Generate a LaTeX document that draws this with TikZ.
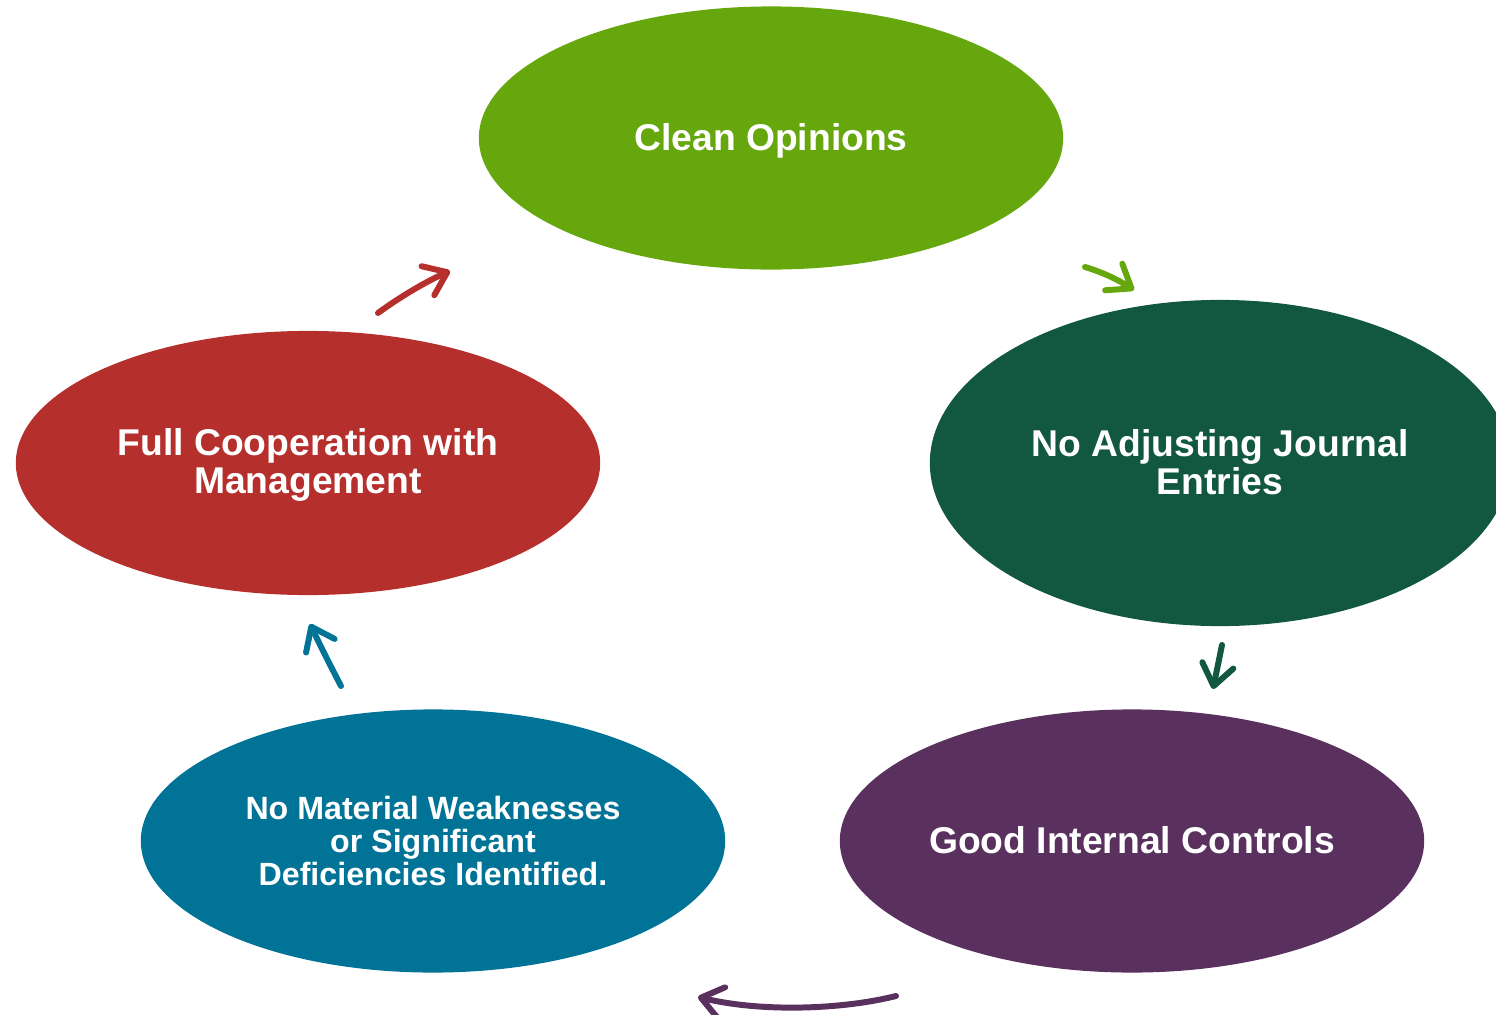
\documentclass[tikz,border=0pt]{standalone}
\usepackage{fontspec}
\setmainfont{Liberation Sans}
\usetikzlibrary{arrows.meta,shapes.geometric}
\definecolor{cgreen}{RGB}{101,167,12}
\definecolor{cdkgreen}{RGB}{18,87,63}
\definecolor{cpurple}{RGB}{90,49,94}
\definecolor{cblue}{RGB}{0,115,150}
\definecolor{cred}{RGB}{181,47,45}
\tikzset{
  blob/.style={ellipse, fill=#1, draw=none, inner sep=0pt},
  lbl/.style={text=white, font=\bfseries\fontsize{10.6}{10.7}\selectfont, align=center, inner sep=0pt},
  smalllbl/.style={text=white, font=\bfseries\fontsize{9.15}{9.5}\selectfont, align=center, inner sep=0pt},
  conn/.style={draw=#1, line width=1.7pt, line cap=round, line join=round, -{Straight Barb[length=6pt,width=9pt,line width=1.7pt,round]}}
}
\begin{document}
\begin{tikzpicture}[x=0.01cm,y=-0.01cm]
\useasboundingbox (0,0) rectangle (1496,1015);
\begin{scope}
\clip (0,0) rectangle (1496,1015);
\node[blob=cgreen, minimum width=5.84cm, minimum height=2.63cm] (clean) at (771,138) {};
\node[blob=cdkgreen, minimum width=5.8cm, minimum height=3.26cm] (adj) at (1220,463) {};
\node[blob=cpurple, minimum width=5.84cm, minimum height=2.63cm] (good) at (1132,841) {};
\node[blob=cblue, minimum width=5.84cm, minimum height=2.63cm] (mat) at (433,841) {};
\node[blob=cred, minimum width=5.84cm, minimum height=2.64cm] (full) at (308,463) {};
\end{scope}
\node[lbl] (tclean) at (771,141) {Clean Opinions};
\node[lbl] (tadj) at (1220,462) {No Adjusting Journal\\Entries};
\node[lbl] (tgood) at (1132,840) {Good Internal Controls};
\node[smalllbl] (tmat) at (433,841) {No Material Weaknesses\\or Significant\\Deficiencies Identified.};
\node[lbl] (tfull) at (308,465) {Full Cooperation with\\Management};
\coordinate (a1s) at (1085,267); \coordinate (a1e) at (1134,290);
\coordinate (a2s) at (1222,645); \coordinate (a2e) at (1213,689);
\coordinate (a3s) at (896,996); \coordinate (a3e) at (698,997);
\coordinate (a4s) at (341,686); \coordinate (a4e) at (310,624);
\coordinate (a5s) at (378,313); \coordinate (a5e) at (450,271);
\draw[conn=cgreen] (a1s) .. controls (1105,273) and (1120,281) .. (a1e);
\draw[conn=cdkgreen] (a2s) -- (a2e);
\draw[conn=cpurple] (a3s) .. controls (840,1010) and (760,1012) .. (a3e);
\draw[conn=cblue] (a4s) .. controls (330,665) and (320,645) .. (a4e);
\draw[conn=cred] (a5s) .. controls (400,297) and (425,282) .. (a5e);
\end{tikzpicture}
\end{document}
